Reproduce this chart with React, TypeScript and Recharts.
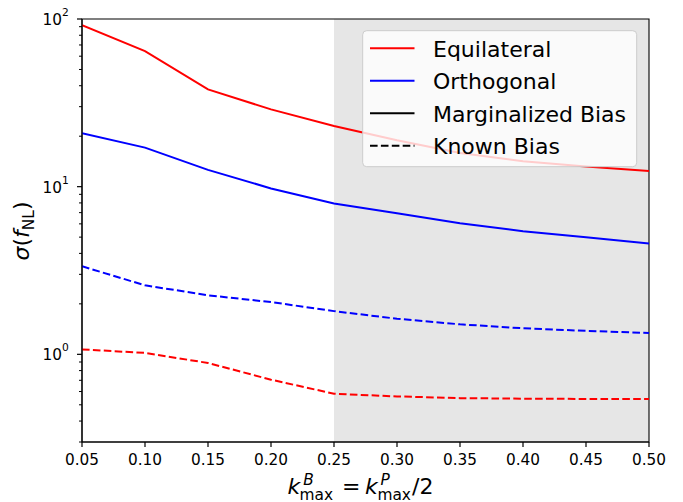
import React from "react";
import {
  LineChart,
  Line,
  XAxis,
  YAxis,
  ReferenceArea,
  ReferenceDot,
} from "recharts";

const kValues = [0.05, 0.1, 0.15, 0.2, 0.25, 0.3, 0.35, 0.4, 0.45, 0.5];
const equilateralMarginalized = [92, 64.4, 38, 28.9, 23, 18.9, 15.9, 14.2, 13.2, 12.4];
const orthogonalMarginalized = [20.8, 17.1, 12.6, 9.76, 7.94, 6.95, 6.05, 5.42, 5.0, 4.58];
const orthogonalKnown = [3.35, 2.58, 2.25, 2.05, 1.81, 1.63, 1.51, 1.43, 1.38, 1.34];
const equilateralKnown = [1.07, 1.02, 0.888, 0.706, 0.582, 0.561, 0.548, 0.544, 0.542, 0.541];

const xTicks = [0.05, 0.1, 0.15, 0.2, 0.25, 0.3, 0.35, 0.4, 0.45, 0.5];
const yMajorTicks = [1, 10, 100];
const yMinorTicks = [0.3, 0.4, 0.5, 0.6, 0.7, 0.8, 0.9, 2, 3, 4, 5, 6, 7, 8, 9, 20, 30, 40, 50, 60, 70, 80, 90];
const yMajorExponents = ["0", "1", "2"];

const xMin = 0.05;
const xMax = 0.5;
const yMin = 0.3;
const yMax = 100;

const shadedStart = 0.25;
const shadedEnd = 0.5;

const legendEntries = [
  { label: "Equilateral", color: "#ff0000", dash: undefined as string | undefined },
  { label: "Orthogonal", color: "#0000ff", dash: undefined as string | undefined },
  { label: "Marginalized Bias", color: "#000000", dash: undefined as string | undefined },
  { label: "Known Bias", color: "#000000", dash: "7.6 3.3" },
];

const data = kValues.map((k, i) => ({
  k,
  eqMarg: equilateralMarginalized[i],
  orthMarg: orthogonalMarginalized[i],
  eqKnown: equilateralKnown[i],
  orthKnown: orthogonalKnown[i],
}));

const FONT = "'DejaVu Sans', sans-serif";
const DASH = "7.6 3.3";

const YTickLabel = (props: any) => {
  const { x, y, payload } = props;
  const idx = yMajorTicks.indexOf(payload.value);
  if (idx < 0) return <g />;
  return (
    <text x={Number(x) - 13.3} y={Number(y) + 6} textAnchor="end" fontSize={15.3} fontFamily={FONT} fill="#000" stroke="none">
      <tspan>10</tspan>
      <tspan fontSize={10.7} dy={-9}>{yMajorExponents[idx]}</tspan>
    </text>
  );
};

const XTickLabel = (props: any) => {
  const { x, y, payload } = props;
  return (
    <text x={x} y={Number(y) + 23} textAnchor="middle" fontSize={15.3} fontFamily={FONT} fill="#000" stroke="none">
      {Number(payload.value).toFixed(2)}
    </text>
  );
};

const YTickMark = (props: any) => {
  const { cx, cy, major } = props;
  const len = major ? 5 : 3;
  return (
    <line x1={cx - len} x2={cx} y1={cy} y2={cy} stroke="#000000" strokeWidth={major ? 1.2 : 1} />
  );
};

const XTickMark = (props: any) => {
  const { cx, cy } = props;
  return <line x1={cx} x2={cx} y1={cy} y2={cy + 5} stroke="#000000" strokeWidth={1.2} />;
};

export default function App() {
  return (
    <div style={{ position: "absolute", left: 0, top: 0, width: 683, height: 502, fontFamily: FONT }}>
      <LineChart width={683} height={502} data={data} margin={{ top: 19, right: 34, left: 0, bottom: 0 }}>
        <ReferenceArea
          x1={shadedStart}
          x2={shadedEnd}
          y1={yMin}
          y2={yMax}
          fill="#e6e6e6"
          fillOpacity={1}
          stroke="none"
          ifOverflow="hidden"
        />
        <XAxis
          dataKey="k"
          type="number"
          domain={[xMin, xMax]}
          ticks={xTicks}
          allowDataOverflow
          height={60}
          tickSize={0}
          tickMargin={0}
          tickLine={false}
          tick={<XTickLabel />}
          axisLine={{ stroke: "#000", strokeWidth: 1.1 }}
          stroke="#000"
          interval={0}
        />
        <YAxis
          type="number"
          scale="log"
          domain={[yMin, yMax]}
          allowDataOverflow
          ticks={[...yMinorTicks, ...yMajorTicks]}
          width={82}
          tickSize={0}
          tickMargin={0}
          tickLine={false}
          tick={<YTickLabel />}
          axisLine={{ stroke: "#000", strokeWidth: 1.1 }}
          stroke="#000"
          interval={0}
        />
        <Line dataKey="eqMarg" stroke="#ff0000" strokeWidth={2} dot={false} type="linear" isAnimationActive={false} />
        <Line dataKey="orthMarg" stroke="#0000ff" strokeWidth={2} dot={false} type="linear" isAnimationActive={false} />
        <Line dataKey="eqKnown" stroke="#ff0000" strokeWidth={2} strokeDasharray={DASH} dot={false} type="linear" isAnimationActive={false} />
        <Line dataKey="orthKnown" stroke="#0000ff" strokeWidth={2} strokeDasharray={DASH} dot={false} type="linear" isAnimationActive={false} />
        <ReferenceArea
          x1={xMin}
          x2={xMax}
          y1={yMin}
          y2={yMax}
          fill="none"
          stroke="#000"
          strokeWidth={1.1}
          ifOverflow="visible"
        />
        {yMinorTicks.map((v) => (
          <ReferenceDot
            key={`ymin-${v}`}
            x={xMin}
            y={v}
            r={1}
            ifOverflow="visible"
            shape={<YTickMark major={false} />}
          />
        ))}
        {yMajorTicks.map((v) => (
          <ReferenceDot
            key={`ymaj-${v}`}
            x={xMin}
            y={v}
            r={1}
            ifOverflow="visible"
            shape={<YTickMark major={true} />}
          />
        ))}
        {xTicks.map((t) => (
          <ReferenceDot
            key={`xt-${t}`}
            x={t}
            y={yMin}
            r={1}
            ifOverflow="visible"
            shape={<XTickMark />}
          />
        ))}
      </LineChart>
      <svg width={683} height={502} style={{ position: "absolute", left: 0, top: 0, pointerEvents: "none" }}>
        <text
          x={28.5}
          y={231}
          transform="rotate(-90, 28.5, 231)"
          textAnchor="middle"
          fontSize={22}
          fontFamily={FONT}
          fill="#000"
        >
          <tspan fontStyle="italic">σ</tspan>
          <tspan>(</tspan>
          <tspan fontStyle="italic">f</tspan>
          <tspan fontSize={15.4} dy={5}>NL</tspan>
          <tspan dy={-5}>)</tspan>
        </text>
        <text x={287.5} y={494} fontSize={22} fontFamily={FONT} fill="#000">
          <tspan fontStyle="italic">k</tspan>
          <tspan fontStyle="italic" fontSize={15.4} dx={3} dy={-9}>B</tspan>
          <tspan fontSize={15.4} dx={-14.3} dy={14.5}>max</tspan>
          <tspan dx={9} dy={-5.5}>=</tspan>
          <tspan fontStyle="italic" dx={4.4}>k</tspan>
          <tspan fontStyle="italic" fontSize={15.4} dx={2.8} dy={-9}>P</tspan>
          <tspan fontSize={15.4} dx={-12.3} dy={14.5}>max</tspan>
          <tspan dx={1} dy={-5.5}>/2</tspan>
        </text>
        <g>
          <rect x={362.7} y={30.7} width={274} height={136} rx={4} ry={4} fill="#ffffff" fillOpacity={0.8} stroke="#cccccc" strokeWidth={1} />
          {legendEntries.map((e, i) => {
            const cy = 48.3 + i * 32.5;
            return (
              <g key={e.label}>
                <line x1={370} x2={414.5} y1={cy} y2={cy} stroke={e.color} strokeWidth={2} strokeDasharray={e.dash} />
                <text x={433} y={cy + 8.2} fontSize={22} fontFamily={FONT} fill="#000">
                  {e.label}
                </text>
              </g>
            );
          })}
        </g>
      </svg>
    </div>
  );
}
